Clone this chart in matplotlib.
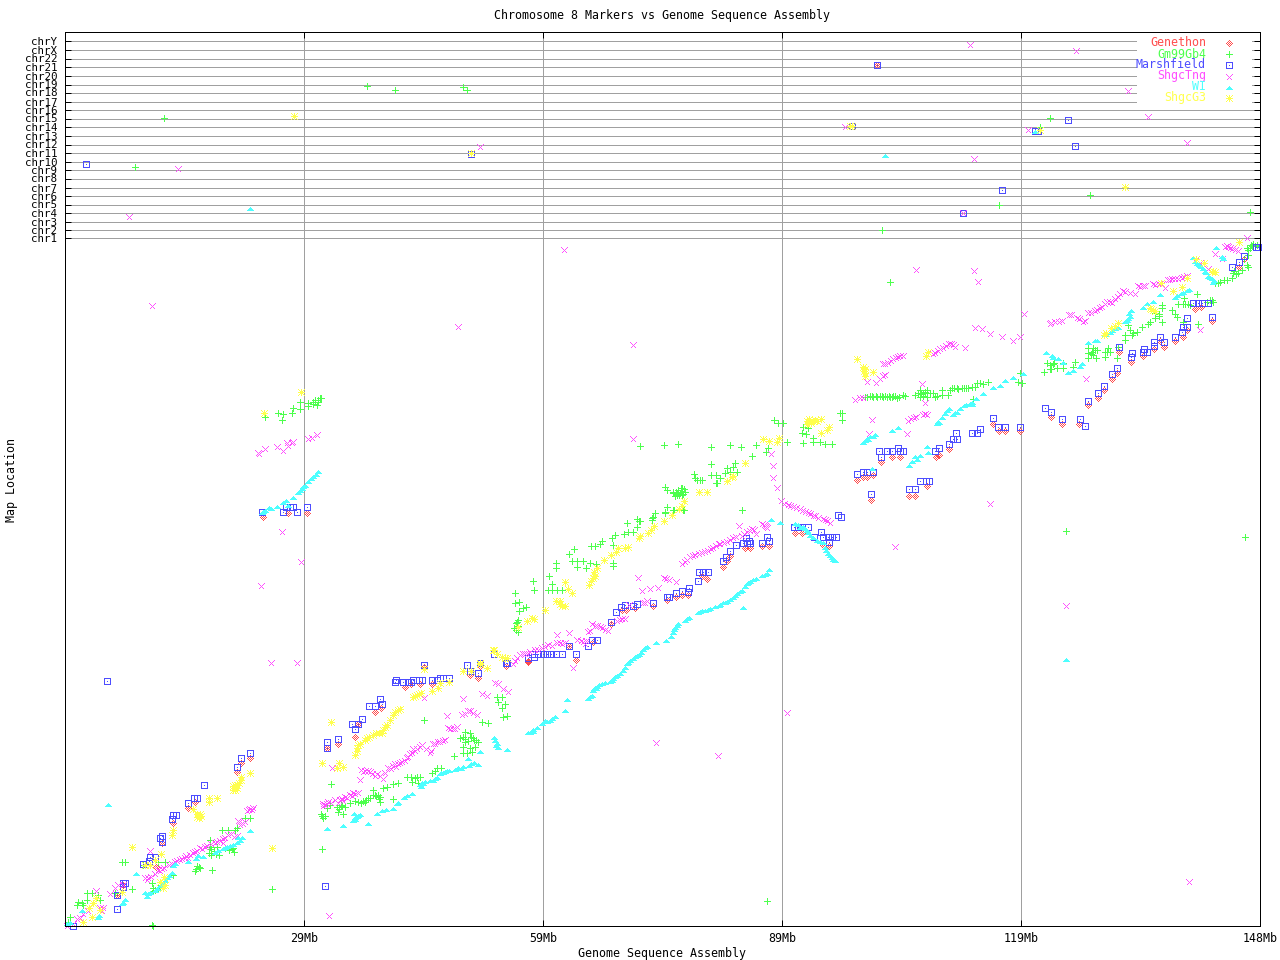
import numpy as np
import matplotlib
matplotlib.use("Agg")
import matplotlib.pyplot as plt
from matplotlib.path import Path
from matplotlib.patches import Rectangle

# Values: genome position in 1/8 Mb-like bins, map location in map units.
GENETHON = [(185,168),(176,163),(172,154),(130,124),(123,118),(108,103),(97,83),(91,59),(52,31),(58,41),
(198,409),(223,413),(242,413),(262,178),(273,182),(290,189),(293,202),(310,214),(316,218),(340,239),(346,242),
(355,242),(367,242),(405,251),(413,248),(441,260),(463,265),(359,259),(415,260),(463,264),(504,280),(511,266),
(528,284),(546,302),(557,316),(561,316),(570,318),(588,320),(602,326),(611,329),(617,331),(623,331),(637,350),
(642,347),(658,359),(662,365),(665,370),(680,378),(685,378),(697,380),(704,380),(730,393),(737,393),(758,381),
(764,380),(816,464),(827,469),(835,469),(792,446),(798,449),(802,449),(808,451),(806,426),(844,430),(850,430),
(862,440),(871,469),(874,471),(884,477),(928,502),(934,495),(940,495),(955,495),(986,509),(997,502),(1014,502),
(1023,521),(1033,528),(1039,536),(1047,547),(1052,553),(1054,574),(1066,564),(1078,570),(1089,577),(1095,585),
(1099,579),(1110,585),(1118,589),(1122,596),(1130,617),(1136,619),(1147,605),(1174,659),(1179,667),(812,861)]

GM99GB4 = [(87,1),(207,37),(185,108),(180,108),(172,98),(170,96),(157,96),(163,96),(145,86),(145,79),(144,73),(146,71),
(154,71),(152,79),(160,78),(169,74),(168,78),(147,56),(132,60),(135,58),(130,55),(108,51),(100,64),(93,64),(57,64),
(60,64),(78,61),(87,43),(88,38),(95,39),(98,38),(67,37),(50,33),(22,33),(27,33),(33,31),(13,24),(17,23),(18,21),(12,21),
(35,26),(22,26),(5,9),(3,4),(200,509),(213,513),(218,512),(217,506),(227,513),(228,518),(235,524),(235,517),(243,523),
(243,520),(248,524),(252,521),(253,526),(255,528),(266,142),(260,110),(258,108),(262,118),(273,114),(278,112),(272,119),
(277,120),(280,119),(285,123),(290,125),(293,124),(300,124),(303,128),(308,131),(310,131),(313,131),(315,129),(315,124),
(308,136),(328,127),(318,138),(322,139),(328,142),(333,143),(342,149),(347,144),(352,149),(355,149),(353,143),(367,153),
(376,158),(359,206),(389,170),(398,173),(402,173),(407,174),(398,179),(405,178),(410,179),(400,184),(408,188),(413,184),
(400,194),(398,189),(406,189),(417,204),(423,203),(438,209),(442,210),(437,218),(440,222),(432,229),(437,229),(433,224),
(453,294),(449,298),(451,303),(453,306),(458,318),(454,315),(461,319),(450,323),(454,324),(450,333),(469,336),(468,345),
(483,336),(487,336),(492,336),(497,336),(487,342),(484,350),(512,359),(512,365),(507,365),(491,358),(491,363),(504,372),
(509,377),(518,365),(521,358),(525,363),(531,362),(526,380),(530,380),(535,382),(537,385),(547,388),(548,381),(550,391),
(548,363),(548,360),(559,392),(563,394),(568,394),(562,403),(572,399),(574,405),(572,407),(587,408),(590,413),(600,413),
(602,419),(609,416),(619,416),(608,433),(612,432),(615,433),(620,434),(617,438),(600,439),(635,446),(652,443),(575,480),
(599,481),(613,482),(646,479),(665,481),(676,479),(691,481),(709,506),(718,503),(713,503),(646,462),(670,463),(668,459),
(662,458),(629,452),(630,448),(632,446),(637,446),(646,451),(651,451),(655,448),(651,443),(660,453),(665,454),(672,454),
(701,474),(703,478),(687,470),(602,436),(608,434),(612,431),(617,431),(600,414),(608,416),(618,416),(588,409),(587,406),
(575,405),(677,416),(722,484),(777,513),(777,506),(738,499),(743,498),(737,493),(741,492),(748,488),(748,484),(738,483),
(755,484),(760,482),(767,482),(775,513),(800,529),(805,530),(808,529),(812,529),(815,530),(818,529),(822,529),(825,529),
(828,530),(832,528),(838,531),(840,530),(850,531),(853,533),(855,536),(855,529),(862,536),(862,529),(868,533),(870,529),
(858,533),(877,536),(877,531),(883,531),(885,536),(887,538),(892,538),(897,538),(901,538),(907,539),(910,539),(912,543),
(918,542),(923,544),(908,527),(953,544),(957,543),(955,553),(979,554),(982,563),(985,557),(988,562),(992,558),(985,561),
(986,557),(989,563),(998,563),(998,558),(1010,564),(1008,559),(1023,578),(1028,578),(1032,576),(1023,573),(1028,571),
(1023,568),(1031,568),(1027,574),(1040,574),(1043,578),(1045,574),(1040,569),(1052,568),(1053,579),(1060,591),(1060,586),
(1063,601),(1065,596),(1067,591),(1072,594),(1077,599),(1083,602),(1085,604),(1090,613),(1094,610),(1090,608),(1097,604),
(1097,621),(1097,618),(1107,616),(1110,612),(1112,609),(1113,622),(1118,622),(1123,622),(1119,628),(1132,632),(1142,624),
(1147,626),(1148,624),(1118,604),(1133,602),(1162,646),(1167,648),(1150,643),(1153,643),(1168,653),(1173,653),(1177,656),
(1182,661),(1183,659),(1183,676),(1183,671),(1187,680),(1192,681),(1001,395),(1180,389),(825,644),(257,77),(88,0),
(99,808),(302,840),(330,836),(398,839),(402,836),(817,696),(1185,714),(975,799),(985,808),(70,759),(702,25),(1025,731),(934,721),
(611,434),(613,436),(616,434),(618,432),(614,431),(619,437),(610,430),(616,438),(802,529),(807,530),(811,530),(817,530),(820,530),
(824,530),(827,529),(830,530),(834,529),(856,532),(858,530),(860,534),(865,533),(872,530),(889,538),(893,537),(899,538),(903,538),
(915,543),(88,35),(90,36),(93,38),(146,77),(149,75),(151,72),(164,76),(167,77),(134,59),(131,57),(296,123),(298,125),(301,126),
(305,128),(311,130),(314,127),(346,149),(350,148),(370,155),(372,158),(395,188),(400,187),(403,185),(405,193),(409,186),(411,186),
(257,110),(256,112),(265,121),(274,117),(276,121),(248,522),(250,526),(253,524),(256,528),(1182,678),(1185,678),(1190,680),(1186,681),
(1188,682),(1179,667),(1169,655),(1171,652),(1159,646),(1155,644),(1026,572),(1030,576),(1042,574),(1068,593),(1094,612),(1120,622),
(1125,621),(1145,626),(453,300),(451,296),(452,304)]

MARSHFIELD = [(185,173),(176,168),(172,159),(139,141),(129,128),(132,128),(123,123),(108,111),(111,111),(107,107),(97,90),
(95,88),(97,84),(90,69),(85,69),(84,65),(78,62),(58,43),(60,43),(58,39),(52,31),(52,17),(8,0),(42,245),(260,40),(197,414),
(218,414),(221,419),(225,419),(228,419),(232,414),(242,419),(262,184),(262,178),(273,187),(287,202),(293,202),(297,207),
(290,197),(304,220),(310,220),(317,222),(315,227),(330,244),(331,246),(338,244),(343,244),(346,244),(348,246),(354,246),
(357,246),(359,261),(367,246),(372,246),(375,248),(378,248),(384,248),(402,261),(405,255),(413,253),(415,263),(429,272),
(441,263),(463,268),(442,263),(467,272),(469,269),(473,272),(478,272),(482,272),(486,272),(491,272),(497,272),(511,272),
(504,280),(523,280),(527,286),(532,286),(546,304),(551,314),(556,319),(560,321),(568,320),(572,322),(588,323),(602,329),
(604,329),(611,333),(617,335),(623,334),(624,338),(633,345),(634,354),(638,354),(643,354),(658,365),(661,369),(665,375),
(671,381),(678,383),(682,383),(685,383),(681,388),(684,385),(697,383),(702,389),(704,385),(729,399),(733,399),(737,399),
(743,399),(749,389),(756,394),(758,389),(763,389),(767,389),(771,389),(764,384),(773,411),(776,409),(792,452),(814,475),
(816,469),(822,475),(827,475),(833,478),(835,475),(838,475),(798,454),(802,454),(808,454),(806,432),(855,445),(861,445),
(864,445),(844,437),(850,437),(870,475),(874,478),(884,482),(888,487),(892,487),(891,493),(907,493),(912,493),(915,497),
(928,508),(933,499),(940,499),(955,499),(980,518),(986,514),(997,507),(1015,507),(1020,500),(1023,525),(1033,533),(1039,540),
(1047,552),(1052,558),(1054,579),(1066,569),(1067,573),(1078,574),(1082,574),(1079,577),(1089,584),(1089,580),(1095,589),
(1099,584),(1110,589),(1117,594),(1118,599),(1122,599),(1122,608),(1128,623),(1133,623),(1137,623),(1143,623),(1147,609),
(1167,659),(1174,664),(1179,670),(1193,679),(1191,679),(21,762),(812,861),(406,772),(787,800),(973,795),(970,795),(1003,806),
(1010,780),(898,713),(937,736)]

SHGCTNG = [(185,118),(182,116),(188,119),(177,104),(173,106),(178,103),(169,90),(172,91),(158,88),(158,84),(150,84),(140,80),
(135,79),(128,74),(132,76),(123,69),(120,69),(117,68),(110,65),(107,63),(97,58),(93,57),(90,53),(85,76),(83,49),(80,49),(58,42),
(53,42),(50,39),(45,33),(31,36),(38,19),(35,19),(37,16),(23,16),(18,13),(15,9),(12,8),(8,3),(2,1),(194,473),(200,478),(212,480),
(218,476),(222,484),(227,484),(223,481),(228,485),(243,488),(247,489),(252,492),(196,341),(236,365),(217,395),(264,11),(258,121),
(262,123),(273,124),(278,126),(277,128),(282,129),(287,131),(290,133),(293,134),(295,147),(267,159),(300,156),(305,155),(310,151),
(315,151),(318,148),(320,154),(323,159),(328,161),(333,163),(337,165),(342,169),(345,173),(348,178),(352,178),(357,182),(365,174),
(368,183),(373,185),(378,186),(388,198),(383,199),(390,198),(397,212),(405,216),(412,212),(382,211),(398,228),(359,229),(417,233),
(422,231),(430,244),(433,243),(438,238),(443,235),(448,263),(455,272),(462,273),(460,273),(470,277),(477,279),(483,282),(492,284),
(497,283),(492,292),(504,294),(508,259),(512,287),(518,285),(520,283),(523,295),(527,303),(530,301),(537,299),(543,296),(552,306),
(560,308),(564,322),(578,324),(573,349),(577,336),(585,338),(593,339),(601,348),(611,345),(617,363),(622,367),(630,372),(637,374),
(643,376),(648,379),(654,383),(655,383),(662,385),(668,389),(677,391),(682,395),(687,398),(674,401),(691,393),(700,401),(697,403),
(702,399),(706,473),(708,461),(708,449),(712,439),(716,426),(723,422),(728,420),(735,418),(740,415),(745,413),(748,411),(758,408),
(765,404),(790,527),(795,529),(798,529),(818,551),(811,544),(802,545),(818,563),(823,564),(828,568),(835,571),(838,571),(868,573),
(873,576),(878,579),(884,583),(888,582),(900,579),(807,507),(804,493),(857,543),(860,524),(843,506),(849,509),(862,512),(842,493),
(925,423),(830,380),(722,214),(591,184),(568,582),(393,600),(87,621),(499,677),(909,656),(913,645),(1124,45),(1001,321),(910,599),
(917,598),(925,593),(937,590),(948,586),(955,590),(985,603),(997,606),(1004,612),(1012,609),(1018,605),(1023,614),(1030,616),
(1035,619),(1040,623),(1045,625),(1053,630),(1058,636),(1065,634),(1070,633),(1073,641),(1078,641),(1088,643),(1094,643),(1100,639),
(1103,647),(1110,648),(1117,649),(1122,651),(1021,548),(1135,597),(1130,666),(1135,664),(1143,658),(1150,673),(1157,668),(1162,681),
(1167,678),(1173,676),(1182,689),(905,882),(909,768),(415,780),(113,758),(1122,784),(1083,810),(963,797),(898,714),(780,800),(1063,836),
(64,710),(1011,876),(206,264),(232,264),(653,171),(851,657),(568,488),(398,228),(959,613),(193,474),
(82,47),(86,50),(95,56),(99,59),(104,62),(112,66),(115,67),(121,71),(125,72),(130,75),(137,78),(142,81),(146,83),(152,85),(155,86),
(160,89),(163,92),(166,93),(174,105),(175,102),(180,105),(184,117),(187,117),(258,123),(260,122),(263,125),(266,124),(270,127),(275,127),
(280,130),(285,132),(288,134),(296,157),(298,155),(303,156),(307,153),(312,153),(326,158),(330,163),(331,160),(335,164),(340,166),(343,170),
(347,174),(350,176),(355,180),(361,178),(366,176),(370,183),(375,185),(380,187),(385,198),(392,200),(400,213),(403,216),(408,214),(450,266),
(452,269),(458,273),(465,275),(473,277),(480,280),(487,281),(495,284),(500,284),(516,286),(521,286),(525,296),(532,301),(535,300),(540,297),
(555,307),(557,308),(580,324),(582,326),(599,349),(604,347),(620,365),(625,370),(628,371),(634,373),(640,375),(646,378),(651,381),(659,384),
(665,387),(671,390),(679,393),(685,396),(689,397),(699,402),(701,400),(719,423),(725,421),(731,419),(737,416),(743,414),(750,411),(753,409),
(760,407),(762,406),(815,548),(820,552),(820,563),(826,566),(831,569),(833,570),(870,574),(875,578),(881,581),(886,583),(890,580),(846,508),
(851,510),(858,512),(860,513),(986,604),(990,605),(994,605),(1006,612),(1014,608),(1020,606),(1026,614),(1032,617),(1037,620),(1042,625),
(1047,624),(1050,628),(1055,633),(1060,635),(1075,640),(1080,641),(1090,642),(1097,643),(1105,647),(1107,648),(1113,648),(1119,650),(1163,680),
(1165,679),(1170,677),(1160,680)]

WI = [(43,122),(71,53),(58,24),(57,23),(60,27),(82,30),(83,33),(85,34),(80,34),(90,36),(95,41),(98,43),(102,49),(107,54),(108,61),
(110,63),(123,65),(131,68),(133,71),(138,70),(150,74),(153,76),(158,78),(165,81),(172,84),(173,89),(177,89),(185,96),(2,3),(5,4),(17,16),
(33,9),(34,11),(197,414),(200,416),(204,419),(212,420),(218,424),(221,426),(223,421),(228,429),(233,434),(237,438),(240,441),(243,445),
(246,448),(251,452),(253,455),(262,98),(278,101),(288,106),(290,109),(293,111),(295,112),(289,113),(303,103),(312,113),(317,116),(321,117),
(328,118),(332,123),(333,124),(339,129),(342,131),(347,133),(356,140),(357,144),(368,146),(372,149),(375,153),(378,154),(384,156),(390,157),
(393,159),(398,160),(406,163),(413,162),(403,168),(429,189),(432,183),(433,179),(442,177),(415,175),(463,194),(465,194),(468,197),(480,206),
(485,206),(490,210),(500,216),(502,227),(523,228),(527,231),(528,236),(530,239),(532,240),(537,243),(545,245),(548,248),(552,251),(558,256),
(562,263),(563,264),(568,268),(572,271),(576,274),(582,280),(591,284),(601,286),(608,294),(610,299),(613,303),(620,306),(624,309),(633,314),
(637,316),(643,317),(654,321),(635,315),(655,322),(658,324),(662,325),(668,329),(672,333),(677,336),(682,343),(683,344),(678,319),(691,348),
(697,351),(702,353),(704,357),(706,407),(715,404),(730,403),(735,399),(740,398),(743,394),(748,389),(758,384),(760,379),(763,373),(767,369),
(770,366),(981,574),(987,571),(988,569),(993,568),(958,553),(948,549),(940,546),(935,541),(928,539),(918,533),(911,528),(907,524),(907,522),
(899,521),(890,514),(888,512),(884,518),(877,509),(874,504),(872,503),(833,499),(827,496),(810,492),(802,488),(798,484),(862,480),(863,474),
(855,471),(850,470),(852,467),(847,465),(844,461),(807,458),(998,564),(1003,554),(1008,556),(1015,560),(1017,563),(1023,584),(1032,586),
(1040,592),(1045,594),(1050,598),(1053,599),(1062,606),(1065,610),(1066,616),(1078,619),(1082,623),(1088,625),(1095,632),(1110,629),(1118,634),
(1122,636),(1128,669),(1132,663),(1135,661),(1138,658),(1143,650),(1147,648),(1148,644),(1151,679),(1157,670),(185,718),(820,771),(970,795),(1001,267),
(92,38),(96,41),(100,46),(104,51),(160,79),(162,80),(168,82),(175,86),(198,415),(206,418),(235,436),(238,440),(248,450),(290,107),(292,110),
(355,142),(358,143),(360,145),(365,146),(370,148),(376,154),(380,155),(382,156),(396,158),(404,161),(409,164),(431,181),(430,186),(525,230),
(529,238),(531,238),(534,242),(540,244),(547,246),(550,250),(555,253),(560,259),(565,266),(570,270),(574,272),(578,277),(580,279),(606,290),
(609,297),(612,301),(622,308),(640,316),(645,318),(650,320),(660,324),(665,327),(670,331),(675,335),(680,340),(685,345),(688,347),(700,352),
(768,367),(765,371),(761,376),(745,391),(742,396),(738,400),(733,402),(752,386),(755,385),(808,490),(805,490),(803,487),(800,486),(882,516),
(880,513),(892,514),(895,518),(901,522),(905,523),(873,505),(1030,586),(1047,596),(1060,605),(1063,608),(1064,613),(1112,631),(1116,633),
(1124,637),(1145,649),(1149,646),(1130,665),(1134,662),(1136,660),(1140,655),(1141,654),(1158,668),(468,195),(472,199),(477,203),(482,205),(487,208)]

SHGCG3 = [(185,153),(176,149),(170,141),(168,136),(172,138),(152,128),(144,128),(144,124),(128,117),(132,112),(135,112),(132,109),(108,96),
(107,91),(67,79),(96,72),(90,66),(85,61),(80,61),(99,49),(95,44),(100,41),(98,38),(57,34),(207,78),(31,28),(28,23),(24,18),(35,16),(27,9),(18,4),
(236,534),(199,513),(257,163),(272,158),(274,163),(278,159),(266,204),(290,171),(292,178),(293,181),(302,188),(304,189),(311,193),(317,193),
(318,196),(322,201),(328,211),(333,216),(348,229),(352,231),(356,233),(367,235),(373,238),(375,243),(359,257),(384,244),(398,255),(406,255),
(415,263),(422,258),(429,276),(432,272),(437,269),(442,268),(428,276),(440,268),(415,262),(453,299),(462,305),(467,308),(469,307),(480,316),
(491,325),(495,325),(497,320),(503,337),(507,333),(500,344),(524,341),(528,348),(529,354),(532,358),(539,366),(546,371),(551,374),(553,378),
(560,378),(563,379),(574,388),(586,396),(589,400),(599,405),(607,411),(614,417),(617,420),(619,425),(634,434),(642,434),(662,445),(667,449),
(668,450),(680,463),(698,487),(704,485),(712,484),(714,488),(742,502),(748,505),(756,507),(764,499),(762,496),(756,493),(792,567),(798,559),
(800,557),(800,550),(808,554),(861,570),(863,574),(1039,591),(1046,598),(1053,603),(1085,618),(1088,616),(1096,643),(1108,635),(1117,639),
(1122,648),(1131,667),(1139,663),(1147,654),(1174,684),(229,810),(406,773),(787,800),(975,796),(1060,739),(785,800),
(292,175),(295,182),(300,186),(308,191),(314,193),(320,199),(325,206),(330,214),(335,217),(350,230),(354,232),(495,322),(500,320),(526,345),
(530,350),(575,390),(583,393),(742,505),(744,507),(746,503),(750,506),(752,505),(800,553),(799,555),(1041,593),(1050,600),(1086,617),(1090,615),
(1150,654),(1148,655),(133,110),(134,108),(136,110),(172,141),(174,143),(176,146),(168,140),(170,136)]

SERIES_NAMES = ["Genethon", "Gm99Gb4", "Marshfield", "ShgcTng", "WI", "ShgcG3"]
SERIES_DATA = [GENETHON, GM99GB4, MARSHFIELD, SHGCTNG, WI, SHGCG3]
SERIES_COLORS = ["#ff4d4d", "#4dff4d", "#4d4dff", "#ff4dff", "#4dffff", "#ffff4d"]

X_TICK_MB = [29.7, 59.4, 89.1, 118.8, 148.5]
X_TICK_LABELS = ["29Mb", "59Mb", "89Mb", "119Mb", "148Mb"]
CHR_LOCS = [688,696,704.5,713,721.5,730.5,738.5,747.5,756,764.5,773,781.5,790.5,799,807.5,816,824.5,833.5,841.5,850.5,859,867.5,876.5,885]
CHR_LABELS = ["chr%d" % i for i in range(1, 23)] + ["chrX", "chrY"]
MB_PER_BIN = 148.5 / 1195

GLYPHS = [
    ["...#...", "..#.#..", ".#.#.#.", "#.#.#.#", ".#.#.#.", "..#.#..", "...#..."],
    ["...#...", "...#...", "...#...", "#######", "...#...", "...#...", "...#..."],
    ["#######", "#.....#", "#.....#", "#..#..#", "#.....#", "#.....#", "#######"],
    [".......", "#.....#", ".#...#.", "..#.#..", "...#...", "..#.#..", ".#...#."],
    [".......", ".......", "...#...", "..###..", ".#####.", "#######", "......."],
    ["#..#..#", ".#.#.#.", "..###..", "#######", "..###..", ".#.#.#.", "#..#..#"],
]


def glyph_path(rows):
    verts, codes = [], []
    for r, row in enumerate(rows):
        for c, ch in enumerate(row):
            if ch == "#":
                x0, x1 = c - 3.5, c - 2.5
                y0, y1 = 3.5 - r - 1, 3.5 - r
                verts += [(x0, y0), (x1, y0), (x1, y1), (x0, y1), (x0, y0)]
                codes += [Path.MOVETO, Path.LINETO, Path.LINETO, Path.LINETO, Path.CLOSEPOLY]
    verts += [(-3.5, -3.5), (-3.5, -3.5), (3.5, 3.5), (3.5, 3.5)]
    codes += [Path.MOVETO, Path.CLOSEPOLY, Path.MOVETO, Path.CLOSEPOLY]
    return Path(verts, codes)


FONT = "DejaVu Sans Mono"
FS = 8.4
fig = plt.figure(figsize=(12.8, 9.6), dpi=100, facecolor="white")
ax = fig.add_axes([65 / 1280, 34 / 960, 1195 / 1280, 894 / 960])
ax.set_xlim(0, 148.5)
ax.set_ylim(0, 894)
ax.set_xticks(X_TICK_MB)
ax.set_xticklabels(X_TICK_LABELS, fontfamily=FONT, fontsize=FS)
ax.set_yticks(CHR_LOCS)
ax.set_yticklabels(CHR_LABELS, fontfamily=FONT, fontsize=7.8)
ax.tick_params(direction="in", length=4.3, width=0.72, top=True, right=True, pad=5.5)
ax.tick_params(axis="x", pad=4)
ax.grid(True, color="#a0a0a0", linewidth=0.72, zorder=0)
ax.set_axisbelow(True)
for s in ax.spines.values():
    s.set_linewidth(0.72)
    s.set_zorder(8)

MS = 7 * 0.72
markers = [glyph_path(g) for g in GLYPHS]
for name, data, color, mk in zip(SERIES_NAMES, SERIES_DATA, SERIES_COLORS, markers):
    arr = np.array(data, dtype=float)
    ax.plot(arr[:, 0] * MB_PER_BIN, arr[:, 1], linestyle="none", marker=mk, markersize=MS,
            markerfacecolor=color, markeredgewidth=0, antialiased=False, clip_on=False, zorder=3, label=name)

# Key, drawn as in the reference: white panel, right-aligned names, then symbols.
ax.add_patch(Rectangle(((1137 - 65) / 1195, 1 - (105 - 32) / 894), (1252 - 1137) / 1195, (105 - 37) / 894,
                       transform=ax.transAxes, facecolor="white", edgecolor="none", zorder=5))
for i, (name, color, mk) in enumerate(zip(SERIES_NAMES, SERIES_COLORS, markers)):
    yy = 1 - (43 + 11 * i - 32) / 894
    ax.text((1206 - 65) / 1195, yy, name, transform=ax.transAxes, ha="right", va="center",
            color=color, fontfamily=FONT, fontsize=FS, zorder=6)
    ax.plot([(1229 - 65) / 1195], [yy], transform=ax.transAxes, linestyle="none", marker=mk, markersize=MS,
            markerfacecolor=color, markeredgewidth=0, antialiased=False, zorder=6)

fig.text(662 / 1280, 1 - 15.5 / 960, "Chromosome 8 Markers vs Genome Sequence Assembly", ha="center", va="center",
         fontfamily=FONT, fontsize=FS)
fig.text(662 / 1280, 1 - 953.5 / 960, "Genome Sequence Assembly", ha="center", va="center", fontfamily=FONT, fontsize=FS)
fig.text(12 / 1280, 1 - 480 / 960, "Map Location", ha="center", va="center", rotation=90, fontfamily=FONT, fontsize=FS)

fig.savefig("out.png", dpi=100, facecolor="white")
